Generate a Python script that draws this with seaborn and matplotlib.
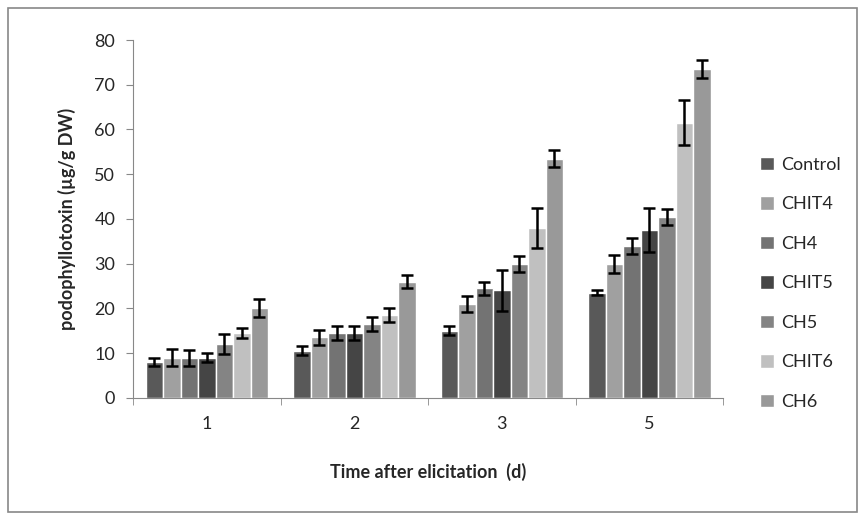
import numpy as np
import pandas as pd
import matplotlib.pyplot as plt
import seaborn as sns

days = ["1", "2", "3", "5"]
treatments = ["Control", "CHIT4", "CH4", "CHIT5", "CH5", "CHIT6", "CH6"]
colors = ["#595959", "#a0a0a0", "#737373", "#454545", "#848484", "#c0c0c0", "#999999"]

means = {
    "Control": [8.0, 10.5, 15.0, 23.5],
    "CHIT4":   [9.0, 13.5, 21.0, 30.0],
    "CH4":     [9.0, 14.5, 24.5, 34.0],
    "CHIT5":   [9.0, 14.5, 24.0, 37.5],
    "CH5":     [12.0, 16.5, 30.0, 40.5],
    "CHIT6":   [14.5, 18.5, 38.0, 61.5],
    "CH6":     [20.0, 26.0, 53.5, 73.5],
}
errors = {
    "Control": [0.8, 1.0, 1.0, 0.5],
    "CHIT4":   [2.0, 1.7, 1.8, 2.0],
    "CH4":     [1.8, 1.5, 1.5, 1.8],
    "CHIT5":   [1.0, 1.5, 4.5, 5.0],
    "CH5":     [2.2, 1.5, 1.8, 1.8],
    "CHIT6":   [1.2, 1.5, 4.5, 5.0],
    "CH6":     [2.0, 1.5, 1.8, 2.0],
}

rows = []
for t in treatments:
    for d, v in zip(days, means[t]):
        rows.append({"day": d, "treatment": t, "value": v})
df = pd.DataFrame(rows)

sns.set_style("white")
plt.rcParams["font.family"] = ["Lato", "DejaVu Sans"]

fig = plt.figure(figsize=(8.65, 5.2), dpi=100)
ax = fig.add_axes([0.154, 0.235, 0.682, 0.688])

sns.barplot(data=df, x="day", y="value", hue="treatment", order=days,
            hue_order=treatments, palette=colors, width=0.83, gap=0,
            errorbar=None, saturation=1, ax=ax)

for cont, t in zip(ax.containers, treatments):
    xs = [b.get_x() + b.get_width() / 2 for b in cont]
    hs = [b.get_height() for b in cont]
    ax.errorbar(xs, hs, yerr=errors[t], fmt="none", ecolor="black",
                elinewidth=1.8, capsize=4, capthick=1.8)

ax.set_ylim(0, 80)
ax.set_xlim(-0.5, 3.5)
ax.set_yticks(range(0, 81, 10))
ax.set_xticks(np.arange(-0.5, 3.6, 1), minor=True)
ax.tick_params(axis="x", which="major", length=0, pad=13, labelsize=13)
ax.tick_params(axis="x", which="minor", length=5, color="#888888", direction="out")
ax.tick_params(axis="y", length=5, color="#888888", direction="out", labelsize=13, pad=8)
ax.xaxis.set_ticks_position("bottom")
ax.yaxis.set_ticks_position("left")

for s in ["top", "right"]:
    ax.spines[s].set_visible(False)
ax.spines["left"].set_color("#888888")
ax.spines["bottom"].set_color("#888888")

ax.set_xlabel("Time after elicitation  (d)", fontsize=13, fontweight="bold", labelpad=22)
ax.set_ylabel("podophyllotoxin (µg/g DW)", fontsize=13, fontweight="bold", labelpad=13)

ax.legend(loc="center left", bbox_to_anchor=(1.035, 0.32), frameon=False,
          fontsize=13, handlelength=0.75, handleheight=0.75, labelspacing=1.3,
          handletextpad=0.4)

fig.patches.append(plt.Rectangle((0.009, 0.015), 0.982, 0.97, transform=fig.transFigure,
                                 fill=False, edgecolor="#888888", linewidth=1.2))

plt.savefig("out.png", dpi=100)
